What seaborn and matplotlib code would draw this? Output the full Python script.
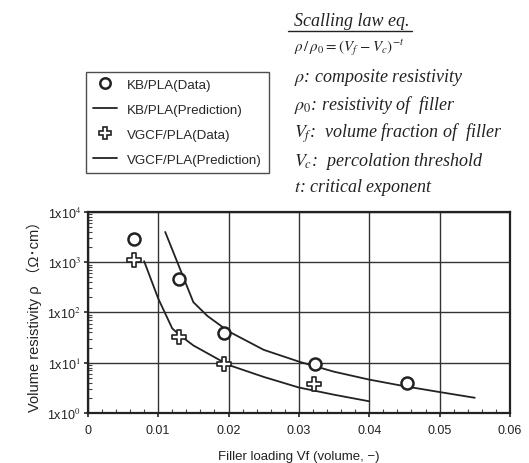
import numpy as np
import pandas as pd
import matplotlib
matplotlib.use("Agg")
import matplotlib.pyplot as plt
from matplotlib.lines import Line2D
from matplotlib.ticker import FixedLocator, MultipleLocator, LogLocator, NullFormatter
import seaborn as sns

# ---- data ----
kb_vf = [0.0065, 0.0129, 0.0193, 0.0323, 0.0454]
kb_rho = [2900, 470, 39, 9.2, 4.0]
vgcf_vf = [0.0065, 0.0129, 0.0193, 0.0322]
vgcf_rho = [1100, 33, 9.3, 3.7]
kb_pred_vf = [0.011, 0.015, 0.017, 0.020, 0.025, 0.030, 0.035, 0.040, 0.045, 0.050, 0.055]
kb_pred = [4000, 160, 85, 42, 18, 10.5, 6.6, 4.6, 3.4, 2.6, 2.0]
vgcf_pred_vf = [0.008, 0.010, 0.012, 0.013, 0.015, 0.020, 0.025, 0.030, 0.035, 0.040]
vgcf_pred = [1050, 190, 48, 36, 22, 9.0, 5.2, 3.2, 2.3, 1.7]

x_ticks = [0, 0.01, 0.02, 0.03, 0.04, 0.05, 0.06]
x_ticklabels = ["0", "0.01", "0.02", "0.03", "0.04", "0.05", "0.06"]
y_ticks = [1, 10, 100, 1000, 10000]
y_ticklabels = [r"1x10$^{0}$", r"1x10$^{1}$", r"1x10$^{2}$", r"1x10$^{3}$", r"1x10$^{4}$"]

legend_labels = ["KB/PLA(Data)", "KB/PLA(Prediction)", "VGCF/PLA(Data)", "VGCF/PLA(Prediction)"]
eq_title = "Scalling law eq."
eq_formula = r"$\rho\,/\,\rho_0=(V_f\,-V_c)^{-t}$"
eq_lines = [r"$\rho$: composite resistivity",
            r"$\rho_0$: resistivity of  filler",
            r"$V_f$:  volume fraction of  filler",
            r"$V_c$:  percolation threshold",
            r"$t$: critical exponent"]

sns.set_style("ticks")
plt.rcParams["font.family"] = ["Liberation Sans", "Noto Sans CJK JP", "DejaVu Sans"]
plt.rcParams["mathtext.fontset"] = "stix"

fig = plt.figure(figsize=(5.29, 4.64), dpi=100)
ax = fig.add_axes([0.166, 0.108, 0.798, 0.433])

kb_df = pd.DataFrame({"vf": kb_vf, "rho": kb_rho})
vg_df = pd.DataFrame({"vf": vgcf_vf, "rho": vgcf_rho})
kbp_df = pd.DataFrame({"vf": kb_pred_vf, "rho": kb_pred})
vgp_df = pd.DataFrame({"vf": vgcf_pred_vf, "rho": vgcf_pred})

sns.lineplot(data=kbp_df, x="vf", y="rho", ax=ax, color="#222222", lw=1.3, sort=False, zorder=3)
sns.lineplot(data=vgp_df, x="vf", y="rho", ax=ax, color="#222222", lw=1.3, sort=False, zorder=3)
sns.scatterplot(data=kb_df, x="vf", y="rho", ax=ax, marker="o", s=75, facecolor="white",
                edgecolor="#222222", linewidth=1.8, zorder=4)
sns.scatterplot(data=vg_df, x="vf", y="rho", ax=ax, marker="P", s=100, facecolor="white",
                edgecolor="#222222", linewidth=1.2, zorder=4)

ax.set_yscale("log")
ax.set_xlim(0, 0.06)
ax.set_ylim(1, 10000)
ax.xaxis.set_major_locator(FixedLocator(x_ticks))
ax.set_xticklabels(x_ticklabels)
ax.xaxis.set_minor_locator(MultipleLocator(0.002))
ax.yaxis.set_major_locator(FixedLocator(y_ticks))
ax.set_yticklabels(y_ticklabels)
ax.yaxis.set_minor_locator(LogLocator(base=10, subs=np.arange(2, 10)))
ax.yaxis.set_minor_formatter(NullFormatter())

ax.grid(True, which="major", color="#333333", lw=1.0)
ax.set_axisbelow(True)
for sp in ax.spines.values():
    sp.set_linewidth(1.6)
    sp.set_color("#222222")
ax.tick_params(which="major", direction="out", length=3, width=1.2, labelsize=9, colors="#222222")
ax.tick_params(axis="x", which="major", pad=5)
ax.tick_params(axis="y", which="major", pad=2)
ax.tick_params(which="minor", direction="in", length=3, width=0.8, colors="#444444")

ax.set_xlabel("Filler loading Vf (volume, −)", fontsize=9.5, color="#222222", labelpad=10)
ax.set_ylabel("Volume resistivity ρ （Ω･cm）", fontsize=10.5, color="#222222", labelpad=4)

# legend
handles = [
    Line2D([], [], ls="none", marker="o", ms=7.5, mfc="white", mec="#222222", mew=1.8),
    Line2D([], [], color="#222222", lw=1.3),
    Line2D([], [], ls="none", marker="P", ms=9, mfc="white", mec="#222222", mew=1.2),
    Line2D([], [], color="#222222", lw=1.3),
]
leg = fig.legend(handles, legend_labels, loc="upper left", bbox_to_anchor=(0.1626, 0.8427),
                 fontsize=9.6, frameon=True, fancybox=False, edgecolor="#222222",
                 labelspacing=0.95, handlelength=1.8, borderpad=0.5, handletextpad=0.8,
                 borderaxespad=0)
leg.get_frame().set_linewidth(1.0)

# equation block
serif = dict(family="Liberation Serif", style="italic", color="#222222")
x0 = 294 / 529
t = fig.text(x0, 1 - 22 / 464, eq_title, va="center", ha="left", fontsize=13, **serif)
fig.text(x0, 1 - 48 / 464, eq_formula, va="center", ha="left", fontsize=10.8, **serif)
ys = [77, 105, 133, 161, 188]
for yy, s in zip(ys, eq_lines):
    fig.text(x0, 1 - yy / 464, s, va="center", ha="left", fontsize=13, **serif)

fig.canvas.draw()
bb = t.get_window_extent().transformed(fig.transFigure.inverted())
fig.add_artist(Line2D([bb.x0 - 0.012, bb.x1 + 0.004], [bb.y0 - 0.004, bb.y0 - 0.004],
                      transform=fig.transFigure, color="#222222", lw=1.0))

fig.savefig("out.png", dpi=100)
